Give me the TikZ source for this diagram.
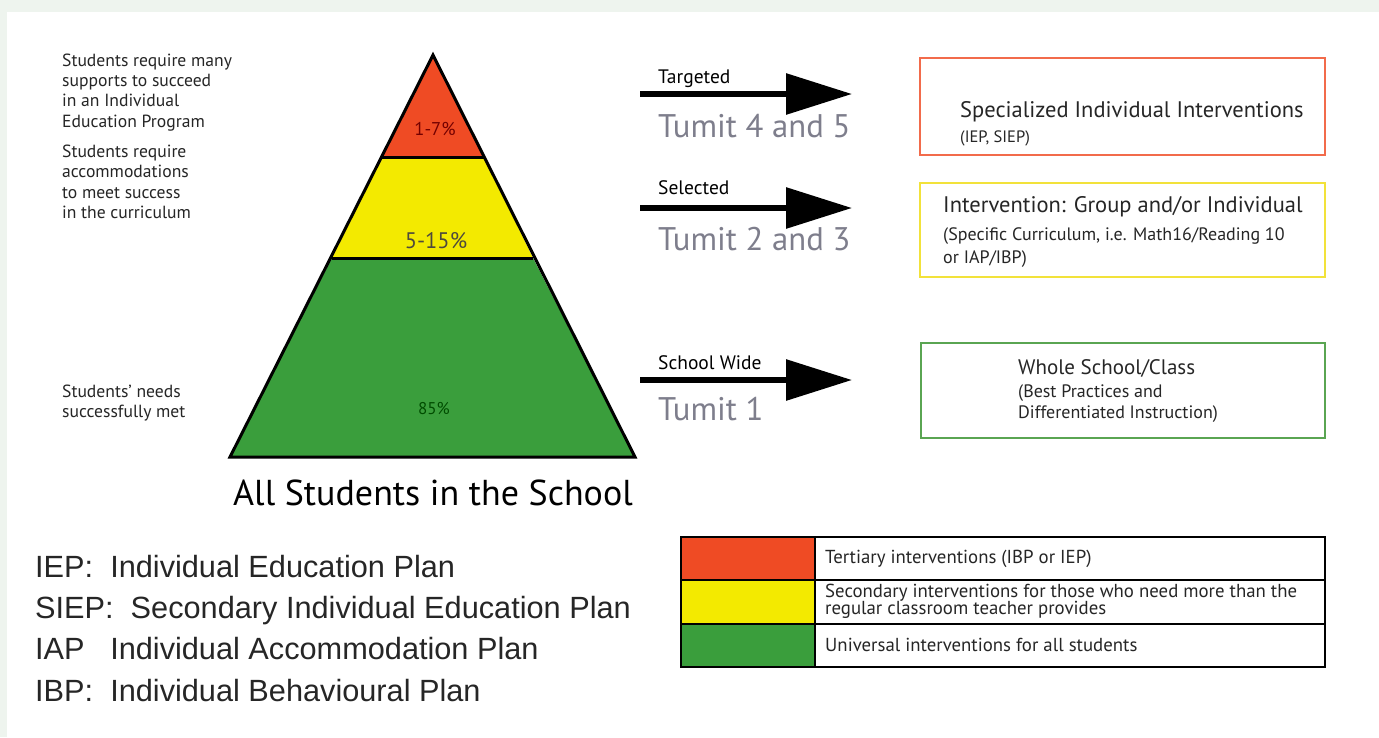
\documentclass[tikz,border=0pt]{standalone}
\usepackage{fontspec}
\setmainfont{PT Sans}
\newfontfamily\arialf{Liberation Sans}
\usetikzlibrary{arrows.meta}
\definecolor{bgframe}{HTML}{EEF4EE}
\definecolor{pred}{HTML}{EF4B24}
\definecolor{pyel}{HTML}{F3EA00}
\definecolor{pgrn}{HTML}{3A9E3C}
\definecolor{boxred}{HTML}{F26B4B}
\definecolor{boxyel}{HTML}{F2E23A}
\definecolor{boxgrn}{HTML}{5AA552}
\definecolor{tumitgray}{HTML}{7E7E8C}
\definecolor{txtdark}{HTML}{262626}
\tikzset{
  desc/.style={anchor=base west, inner sep=0pt, text=txtdark, font=\fontsize{17.6}{20}\selectfont},
  tag/.style={anchor=base west, inner sep=0pt, text=black, font=\fontsize{19.5}{22}\selectfont},
  tumit/.style={anchor=base west, inner sep=0pt, text=tumitgray, font=\fontsize{32.7}{36}\selectfont},
  bigarrow/.style={line width=6pt, -{Triangle[length=66pt,width=40pt]}},
  boxtitle/.style={anchor=base west, inner sep=0pt, text=txtdark, font=\fontsize{22.5}{26}\selectfont},
  boxsub/.style={anchor=base west, inner sep=0pt, text=txtdark, font=\fontsize{18}{21}\selectfont},
  legtxt/.style={anchor=base west, inner sep=0pt, text=txtdark, font=\fontsize{18.8}{21}\selectfont},
  abbr/.style={anchor=base west, inner sep=0pt, text=black!85, font=\arialf\fontsize{30.7}{34}\selectfont},
  pct/.style={inner sep=0pt, anchor=base},
  ibox/.style={draw=#1, line width=1.8pt, inner sep=0pt},
}
\begin{document}
\begin{tikzpicture}[x=1pt,y=-1pt]
\fill[bgframe] (0,0) rectangle (1379,737);
\fill[white] (7,12) rectangle (1379,737);
\useasboundingbox (0,0) rectangle (1379,737);

% pyramid
\coordinate (A) at (433,55);
\coordinate (R1) at (382,157); \coordinate (R2) at (484,157);
\coordinate (Y1) at (332,258); \coordinate (Y2) at (533,258);
\coordinate (B1) at (230,457); \coordinate (B2) at (635,457);
\fill[pred] (A) -- (R2) -- (R1) -- cycle;
\fill[pyel] (R1) -- (R2) -- (Y2) -- (Y1) -- cycle;
\fill[pgrn] (Y1) -- (Y2) -- (B2) -- (B1) -- cycle;
\draw[line width=3pt, line join=miter] (A) -- (B2) -- (B1) -- cycle;
\draw[line width=3pt] (R1) -- (R2);
\draw[line width=3pt] (Y1) -- (Y2);
\node[pct, text=red!45!black, font=\fontsize{18.5}{21}\selectfont] (p1) at (435,135) {1-7\%};
\node[pct, text=black!80!yellow, font=\fontsize{22.5}{26}\selectfont] (p2) at (436,248) {5-15\%};
\node[pct, text=green!30!black, font=\fontsize{17}{20}\selectfont] (p3) at (434,414) {85\%};
\node[pct, text=black, font=\fontsize{36}{40}\selectfont] (all) at (433,505) {All Students in the School};

% left descriptions
\node[desc] (d1a) at (62,66) {Students require many};
\node[desc] (d1b) at (62,86) {supports to succeed};
\node[desc] (d1c) at (62,106) {in an Individual};
\node[desc] (d1d) at (62,127) {Education Program};
\node[desc] (d2a) at (62,157) {Students require};
\node[desc] (d2b) at (62,177) {accommodations};
\node[desc] (d2c) at (62,198) {to meet success};
\node[desc] (d2d) at (62,218) {in the curriculum};
\node[desc] (d3a) at (62,397) {Students' needs};
\node[desc] (d3b) at (62,417) {successfully met};

% arrows
\coordinate (a1s) at (640,94); \coordinate (a1e) at (852,94);
\coordinate (a2s) at (640,208); \coordinate (a2e) at (852,208);
\coordinate (a3s) at (640,380); \coordinate (a3e) at (852,380);
\draw[bigarrow] (a1s) -- (a1e);
\draw[bigarrow] (a2s) -- (a2e);
\draw[bigarrow] (a3s) -- (a3e);
\node[tag] (t1) at (658,83) {Targeted};
\node[tag] (t2) at (658,194) {Selected};
\node[tag] (t3) at (658,369) {School Wide};
\node[tumit] (u1) at (658,137) {Tumit 4 and 5};
\node[tumit] (u2) at (658,250) {Tumit 2 and 3};
\node[tumit] (u3) at (658,420) {Tumit 1};

% boxes
\node[ibox=boxred, minimum width=405pt, minimum height=97pt] (bx1) at (1122.5,106.5) {};
\node[ibox=boxyel, minimum width=405pt, minimum height=94pt] (bx2) at (1122.5,230) {};
\node[ibox=boxgrn, minimum width=404pt, minimum height=95pt] (bx3) at (1123,390.5) {};
\node[boxtitle] (b1t) at (960,117) {Specialized Individual Interventions};
\node[boxsub, font=\fontsize{16.5}{19}\selectfont] (b1s) at (960,142) {(IEP, SIEP)};
\node[boxtitle] (b2t) at (943,212) {Intervention: Group and/or Individual};
\node[boxsub] (b2s) at (943,240) {(Specific Curriculum, i.e. Math16/Reading 10};
\node[boxsub] (b2u) at (943,263) {or IAP/IBP)};
\node[boxtitle, font=\fontsize{21}{25}\selectfont] (b3t) at (1018,374) {Whole School/Class};
\node[boxsub] (b3s) at (1018,397) {(Best Practices and};
\node[boxsub] (b3u) at (1018,418) {Differentiated Instruction)};

% legend table
\fill[pred] (681,537) rectangle (815,580);
\fill[pyel] (681,580) rectangle (815,624);
\fill[pgrn] (681,624) rectangle (815,667);
\draw[line width=1.8pt] (681,537) rectangle (1325,667);
\draw[line width=1.5pt] (681,580) -- (1325,580);
\draw[line width=1.5pt] (681,624) -- (1325,624);
\draw[line width=1.5pt] (815,537) -- (815,667);
\node[legtxt] (l1) at (825,563) {Tertiary interventions (IBP or IEP)};
\node[legtxt] (l2) at (825,597) {Secondary interventions for those who need more than the};
\node[legtxt] (l2b) at (825,614) {regular classroom teacher provides};
\node[legtxt] (l3) at (825,651) {Universal interventions for all students};

% abbreviations
\node[abbr] (e1) at (35,577) {IEP:\ \ Individual Education Plan};
\node[abbr] (e2) at (35,618) {SIEP:\ \ Secondary Individual Education Plan};
\node[abbr] (e3) at (35,659) {IAP\ \ \ Individual Accommodation Plan};
\node[abbr] (e4) at (35,701) {IBP:\ \ Individual Behavioural Plan};
\end{tikzpicture}
\end{document}
